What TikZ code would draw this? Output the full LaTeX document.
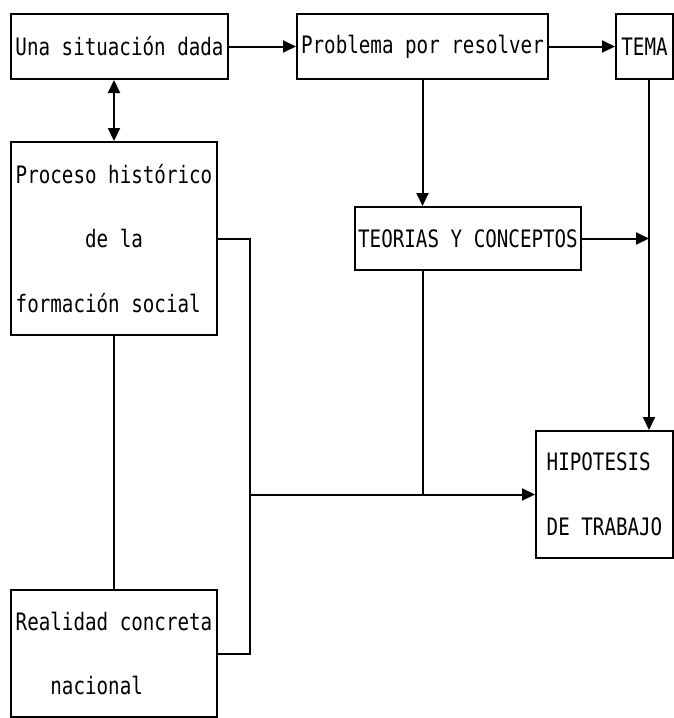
\documentclass[tikz,border=0pt]{standalone}
\usepackage{fontspec}
\newfontfamily\monof[FakeStretch=0.8]{DejaVu Sans Mono}
\usetikzlibrary{arrows.meta}
\begin{document}
\begin{tikzpicture}[x=1pt,y=-1pt,
  box/.style={draw,line width=2pt,inner sep=0pt,align=left,
    font=\monof\fontsize{24}{64.5}\selectfont},
  conn/.style={line width=2pt},
  tip/.tip={Triangle[length=13pt,width=12pt]},
  arr/.style={line width=2pt,-tip},
  thinl/.style={line width=1.2pt}]
\useasboundingbox (0,0) rectangle (674,718);
\node[box,minimum width=217,minimum height=65] (sit) at (119.5,46.5) {Una situación dada};
\node[box,minimum width=251,minimum height=65] (prob) at (422.5,46.5) {Problema por resolver};
\node[box,minimum width=57,minimum height=65] (tema) at (644.5,46.5) {TEMA};
\node[box,minimum width=226,minimum height=63] (teo) at (468,238.5) {TEORIAS Y CONCEPTOS};
\node[box,minimum width=206,minimum height=193] (proc) at (114,238.5)
  {Proceso histórico\\\phantom{xxxxxx}de la\\formación social};
\node[box,minimum width=206,minimum height=127] (real) at (114,653.5)
  {Realidad concreta\\\phantom{xxx}nacional};
\node[box,minimum width=137,minimum height=127] (hip) at (604.5,494.5)
  {HIPOTESIS\\DE TRABAJO};
\coordinate (tv) at (649,79);
\coordinate (jn) at (250,495);
% connectors
\draw[arr] (sit.east) -- (prob.west);
\draw[arr] (prob.east) -- (tema.west);
\draw[line width=2pt,tip-tip] (proc.north |- sit.south) -- (proc.north);
\draw[arr] (prob.south) -- (prob.south |- teo.north);
\draw[arr] (tv) -- (tv |- hip.north);
\draw[arr] (teo.east) -- (teo.east -| tv);
\draw[conn] (proc.east) -- (proc.east -| jn) |- (real.east);
\draw[arr] (hip.west -| jn) -- (hip.west);
\draw[conn] (prob.south |- teo.south) -- (prob.south |- hip.west);
\draw[thinl] (proc.south) -- (real.north);
\end{tikzpicture}
\end{document}
